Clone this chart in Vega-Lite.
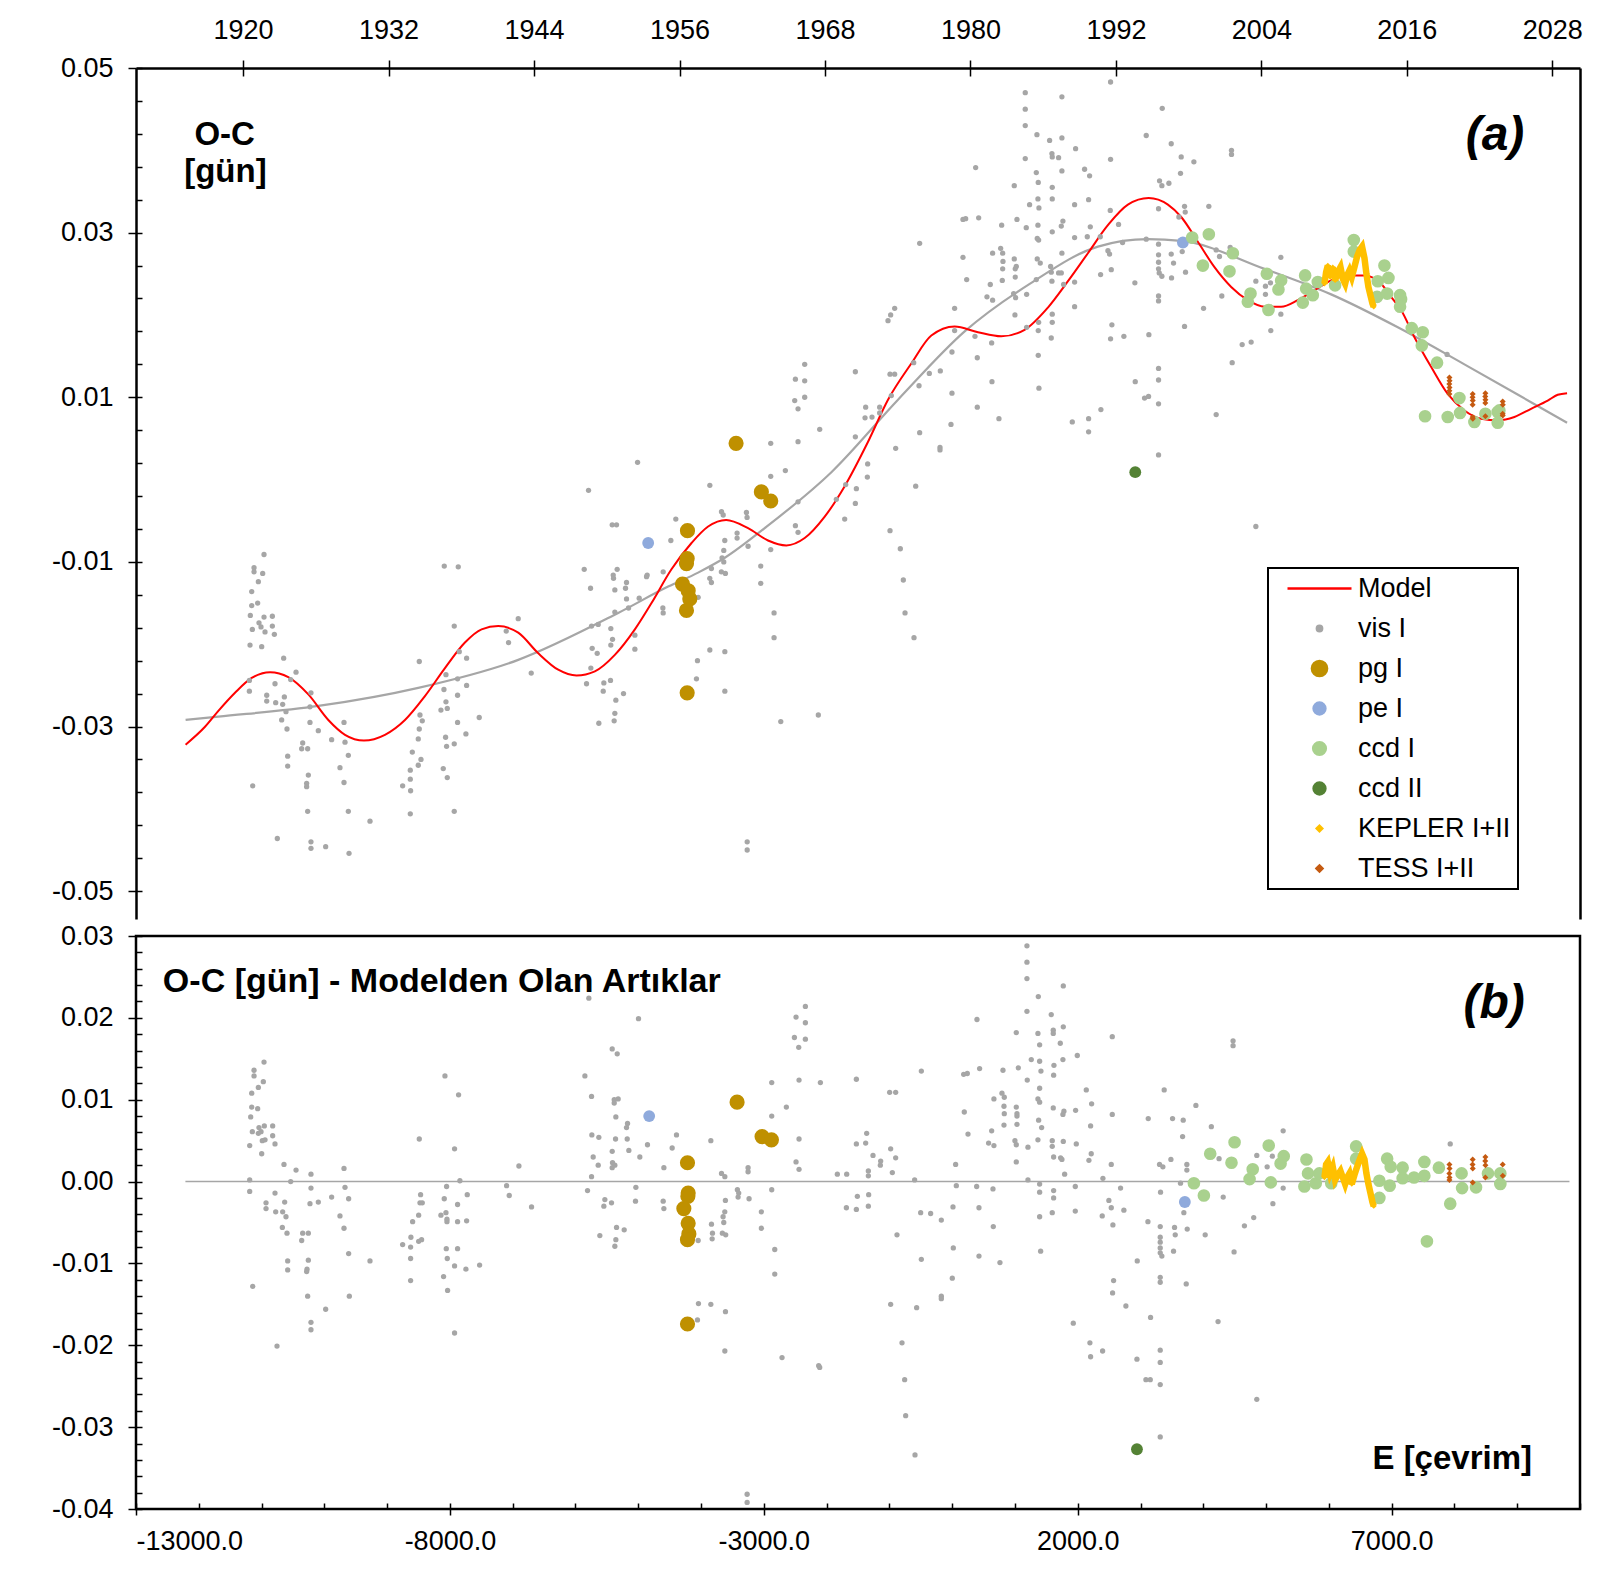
{
"$schema": "https://vega.github.io/schema/vega-lite/v6.json",
"background": "white",
"padding": {"left": 50, "top": 16, "right": 10, "bottom": 5},
"spacing": 1,
"config": {
  "font": "Liberation Sans",
  "view": {"stroke": null},
  "axis": {"labelFont": "Liberation Sans", "labelFontSize": 27, "labelColor": "black", "tickColor": "black", "domainColor": "black", "grid": false, "title": null, "tickWidth": 1.5, "domainWidth": 2.5}
},
"datasets": {
"trend": [
{"e":-12210,"o":-0.0292},{"e":-11688,"o":-0.0288},{"e":-10096,"o":-0.0275},{"e":-8504,"o":-0.0253},{"e":-6912,"o":-0.0219},{"e":-5320,"o":-0.0162},{"e":-4524,"o":-0.0130},{"e":-4047,"o":-0.0113},{"e":-3621,"o":-0.0095},{"e":-2986,"o":-0.0059},{"e":-1924,"o":0.0009},{"e":-863,"o":0.0097},{"e":199,"o":0.0180},{"e":1260,"o":0.0239},{"e":2321,"o":0.0283},{"e":3117,"o":0.0292},{"e":3648,"o":0.0290},{"e":4975,"o":0.0256},{"e":6036,"o":0.0225},{"e":7098,"o":0.0185},{"e":8159,"o":0.0140},{"e":9220,"o":0.0094},{"e":9794,"o":0.0069}
],
"model": [
{"e":-12210,"o":-0.0322,"s":"Model"},{"e":-11897,"o":-0.0300,"s":"Model"},{"e":-11688,"o":-0.0281,"s":"Model"},{"e":-11423,"o":-0.0259,"s":"Model"},{"e":-11157,"o":-0.0241,"s":"Model"},{"e":-10865,"o":-0.0234,"s":"Model"},{"e":-10574,"o":-0.0240,"s":"Model"},{"e":-10255,"o":-0.0261,"s":"Model"},{"e":-9937,"o":-0.0292,"s":"Model"},{"e":-9671,"o":-0.0310,"s":"Model"},{"e":-9369,"o":-0.0317,"s":"Model"},{"e":-9035,"o":-0.0310,"s":"Model"},{"e":-8716,"o":-0.0292,"s":"Model"},{"e":-8398,"o":-0.0263,"s":"Model"},{"e":-8079,"o":-0.0229,"s":"Model"},{"e":-7761,"o":-0.0198,"s":"Model"},{"e":-7496,"o":-0.0182,"s":"Model"},{"e":-7230,"o":-0.0178,"s":"Model"},{"e":-6912,"o":-0.0186,"s":"Model"},{"e":-6593,"o":-0.0211,"s":"Model"},{"e":-6275,"o":-0.0231,"s":"Model"},{"e":-5983,"o":-0.0238,"s":"Model"},{"e":-5691,"o":-0.0233,"s":"Model"},{"e":-5373,"o":-0.0213,"s":"Model"},{"e":-5054,"o":-0.0182,"s":"Model"},{"e":-4789,"o":-0.0150,"s":"Model"},{"e":-4471,"o":-0.0109,"s":"Model"},{"e":-4152,"o":-0.0077,"s":"Model"},{"e":-3887,"o":-0.0057,"s":"Model"},{"e":-3600,"o":-0.0049,"s":"Model"},{"e":-3251,"o":-0.0059,"s":"Model"},{"e":-2933,"o":-0.0074,"s":"Model"},{"e":-2641,"o":-0.0080,"s":"Model"},{"e":-2349,"o":-0.0071,"s":"Model"},{"e":-2030,"o":-0.0045,"s":"Model"},{"e":-1712,"o":-0.0008,"s":"Model"},{"e":-1340,"o":0.0046,"s":"Model"},{"e":-1022,"o":0.0097,"s":"Model"},{"e":-651,"o":0.0141,"s":"Model"},{"e":-332,"o":0.0175,"s":"Model"},{"e":39,"o":0.0186,"s":"Model"},{"e":411,"o":0.0179,"s":"Model"},{"e":782,"o":0.0174,"s":"Model"},{"e":1154,"o":0.0182,"s":"Model"},{"e":1525,"o":0.0209,"s":"Model"},{"e":1844,"o":0.0241,"s":"Model"},{"e":2162,"o":0.0275,"s":"Model"},{"e":2480,"o":0.0309,"s":"Model"},{"e":2799,"o":0.0334,"s":"Model"},{"e":3130,"o":0.0342,"s":"Model"},{"e":3436,"o":0.0334,"s":"Model"},{"e":3648,"o":0.0319,"s":"Model"},{"e":3913,"o":0.0289,"s":"Model"},{"e":4178,"o":0.0258,"s":"Model"},{"e":4444,"o":0.0234,"s":"Model"},{"e":4709,"o":0.0218,"s":"Model"},{"e":4975,"o":0.0210,"s":"Model"},{"e":5240,"o":0.0210,"s":"Model"},{"e":5505,"o":0.0218,"s":"Model"},{"e":5771,"o":0.0230,"s":"Model"},{"e":6036,"o":0.0242,"s":"Model"},{"e":6301,"o":0.0248,"s":"Model"},{"e":6567,"o":0.0248,"s":"Model"},{"e":6832,"o":0.0238,"s":"Model"},{"e":6991,"o":0.0222,"s":"Model"},{"e":7150,"o":0.0206,"s":"Model"},{"e":7363,"o":0.0173,"s":"Model"},{"e":7628,"o":0.0137,"s":"Model"},{"e":7893,"o":0.0104,"s":"Model"},{"e":8159,"o":0.0084,"s":"Model"},{"e":8424,"o":0.0074,"s":"Model"},{"e":8689,"o":0.0072,"s":"Model"},{"e":8955,"o":0.0076,"s":"Model"},{"e":9220,"o":0.0086,"s":"Model"},{"e":9486,"o":0.0096,"s":"Model"},{"e":9645,"o":0.0103,"s":"Model"},{"e":9794,"o":0.0105,"s":"Model"}
],
"zero": [{"e":-12213,"o":0},{"e":9832,"o":0}],
"top": [
{"e":-10961,"o":-0.0091,"s":"vis I"},{"e":-11120,"o":-0.0107,"s":"vis I"},{"e":-11120,"o":-0.0112,"s":"vis I"},{"e":-10982,"o":-0.0114,"s":"vis I"},{"e":-11051,"o":-0.0124,"s":"vis I"},{"e":-11157,"o":-0.0136,"s":"vis I"},{"e":-11157,"o":-0.0153,"s":"vis I"},{"e":-11062,"o":-0.0150,"s":"vis I"},{"e":-11179,"o":-0.0165,"s":"vis I"},{"e":-10961,"o":-0.0167,"s":"vis I"},{"e":-10828,"o":-0.0166,"s":"vis I"},{"e":-11041,"o":-0.0174,"s":"vis I"},{"e":-11009,"o":-0.0179,"s":"vis I"},{"e":-11147,"o":-0.0182,"s":"vis I"},{"e":-10945,"o":-0.0185,"s":"vis I"},{"e":-10828,"o":-0.0178,"s":"vis I"},{"e":-10796,"o":-0.0188,"s":"vis I"},{"e":-11184,"o":-0.0201,"s":"vis I"},{"e":-10998,"o":-0.0203,"s":"vis I"},{"e":-11194,"o":-0.0244,"s":"vis I"},{"e":-11194,"o":-0.0257,"s":"vis I"},{"e":-10786,"o":-0.0248,"s":"vis I"},{"e":-10918,"o":-0.0262,"s":"vis I"},{"e":-10918,"o":-0.0269,"s":"vis I"},{"e":-10775,"o":-0.0271,"s":"vis I"},{"e":-10664,"o":-0.0273,"s":"vis I"},{"e":-10637,"o":-0.0264,"s":"vis I"},{"e":-10648,"o":-0.0217,"s":"vis I"},{"e":-10451,"o":-0.0234,"s":"vis I"},{"e":-10536,"o":-0.0243,"s":"vis I"},{"e":-10611,"o":-0.0282,"s":"vis I"},{"e":-10680,"o":-0.0292,"s":"vis I"},{"e":-10595,"o":-0.0303,"s":"vis I"},{"e":-10213,"o":-0.0259,"s":"vis I"},{"e":-10229,"o":-0.0276,"s":"vis I"},{"e":-10229,"o":-0.0295,"s":"vis I"},{"e":-10096,"o":-0.0305,"s":"vis I"},{"e":-10345,"o":-0.0320,"s":"vis I"},{"e":-10361,"o":-0.0327,"s":"vis I"},{"e":-10266,"o":-0.0327,"s":"vis I"},{"e":-10584,"o":-0.0336,"s":"vis I"},{"e":-10584,"o":-0.0348,"s":"vis I"},{"e":-11141,"o":-0.0372,"s":"vis I"},{"e":-10255,"o":-0.0359,"s":"vis I"},{"e":-10282,"o":-0.0369,"s":"vis I"},{"e":-10282,"o":-0.0373,"s":"vis I"},{"e":-10266,"o":-0.0403,"s":"vis I"},{"e":-10749,"o":-0.0436,"s":"vis I"},{"e":-10213,"o":-0.0440,"s":"vis I"},{"e":-10213,"o":-0.0448,"s":"vis I"},{"e":-9979,"o":-0.0446,"s":"vis I"},{"e":-9884,"o":-0.0316,"s":"vis I"},{"e":-9687,"o":-0.0295,"s":"vis I"},{"e":-9671,"o":-0.0319,"s":"vis I"},{"e":-9618,"o":-0.0335,"s":"vis I"},{"e":-9751,"o":-0.0350,"s":"vis I"},{"e":-9687,"o":-0.0368,"s":"vis I"},{"e":-9618,"o":-0.0403,"s":"vis I"},{"e":-9273,"o":-0.0415,"s":"vis I"},{"e":-9607,"o":-0.0454,"s":"vis I"},
{"e":-8488,"o":-0.0221,"s":"vis I"},{"e":-8090,"o":-0.0105,"s":"vis I"},{"e":-7867,"o":-0.0106,"s":"vis I"},{"e":-7931,"o":-0.0178,"s":"vis I"},{"e":-7851,"o":-0.0209,"s":"vis I"},{"e":-7734,"o":-0.0217,"s":"vis I"},{"e":-8063,"o":-0.0237,"s":"vis I"},{"e":-7878,"o":-0.0242,"s":"vis I"},{"e":-8095,"o":-0.0255,"s":"vis I"},{"e":-7734,"o":-0.0250,"s":"vis I"},{"e":-7878,"o":-0.0262,"s":"vis I"},{"e":-8063,"o":-0.0270,"s":"vis I"},{"e":-8042,"o":-0.0278,"s":"vis I"},{"e":-8143,"o":-0.0280,"s":"vis I"},{"e":-8477,"o":-0.0286,"s":"vis I"},{"e":-8440,"o":-0.0293,"s":"vis I"},{"e":-8488,"o":-0.0303,"s":"vis I"},{"e":-8504,"o":-0.0315,"s":"vis I"},{"e":-7878,"o":-0.0295,"s":"vis I"},{"e":-7533,"o":-0.0289,"s":"vis I"},{"e":-8069,"o":-0.0313,"s":"vis I"},{"e":-8053,"o":-0.0324,"s":"vis I"},{"e":-7931,"o":-0.0321,"s":"vis I"},{"e":-7745,"o":-0.0309,"s":"vis I"},{"e":-8599,"o":-0.0331,"s":"vis I"},{"e":-8461,"o":-0.0340,"s":"vis I"},{"e":-8504,"o":-0.0347,"s":"vis I"},{"e":-8631,"o":-0.0353,"s":"vis I"},{"e":-8631,"o":-0.0364,"s":"vis I"},{"e":-8753,"o":-0.0372,"s":"vis I"},{"e":-8626,"o":-0.0378,"s":"vis I"},{"e":-8106,"o":-0.0351,"s":"vis I"},{"e":-8042,"o":-0.0362,"s":"vis I"},{"e":-8631,"o":-0.0406,"s":"vis I"},{"e":-7931,"o":-0.0403,"s":"vis I"},{"e":-6912,"o":-0.0169,"s":"vis I"},{"e":-7103,"o":-0.0184,"s":"vis I"},{"e":-7066,"o":-0.0198,"s":"vis I"},{"e":-6705,"o":-0.0235,"s":"vis I"},
{"e":-5792,"o":-0.0013,"s":"vis I"},{"e":-5415,"o":-0.0055,"s":"vis I"},{"e":-5346,"o":-0.0055,"s":"vis I"},{"e":-5861,"o":-0.0109,"s":"vis I"},{"e":-5760,"o":-0.0132,"s":"vis I"},{"e":-5336,"o":-0.0109,"s":"vis I"},{"e":-5399,"o":-0.0116,"s":"vis I"},{"e":-5394,"o":-0.0120,"s":"vis I"},{"e":-5187,"o":-0.0125,"s":"vis I"},{"e":-5203,"o":-0.0132,"s":"vis I"},{"e":-5373,"o":-0.0134,"s":"vis I"},{"e":-5187,"o":-0.0145,"s":"vis I"},{"e":-5155,"o":-0.0156,"s":"vis I"},{"e":-4985,"o":-0.0144,"s":"vis I"},{"e":-5373,"o":-0.0161,"s":"vis I"},{"e":-5744,"o":-0.0178,"s":"vis I"},{"e":-5638,"o":-0.0176,"s":"vis I"},{"e":-5437,"o":-0.0181,"s":"vis I"},{"e":-5410,"o":-0.0194,"s":"vis I"},{"e":-5437,"o":-0.0201,"s":"vis I"},{"e":-5054,"o":-0.0189,"s":"vis I"},{"e":-5054,"o":-0.0206,"s":"vis I"},{"e":-5734,"o":-0.0205,"s":"vis I"},{"e":-5654,"o":-0.0211,"s":"vis I"},{"e":-5755,"o":-0.0229,"s":"vis I"},{"e":-5824,"o":-0.0248,"s":"vis I"},{"e":-5442,"o":-0.0244,"s":"vis I"},{"e":-5548,"o":-0.0247,"s":"vis I"},{"e":-5558,"o":-0.0257,"s":"vis I"},{"e":-5357,"o":-0.0268,"s":"vis I"},{"e":-5235,"o":-0.0260,"s":"vis I"},{"e":-5373,"o":-0.0284,"s":"vis I"},{"e":-5384,"o":-0.0293,"s":"vis I"},{"e":-5628,"o":-0.0296,"s":"vis I"},{"e":-4858,"o":-0.0116,"s":"vis I"},{"e":-4868,"o":-0.0118,"s":"vis I"},{"e":-4603,"o":-0.0112,"s":"vis I"},{"e":-4481,"o":-0.0074,"s":"vis I"},{"e":-4402,"o":-0.0048,"s":"vis I"},{"e":-4608,"o":-0.0156,"s":"vis I"},{"e":-4603,"o":-0.0162,"s":"vis I"},{"e":-3860,"o":-0.0007,"s":"vis I"},{"e":-4057,"o":-0.0220,"s":"vis I"},{"e":-4073,"o":-0.0242,"s":"vis I"},{"e":-3860,"o":-0.0207,"s":"vis I"},{"e":-3621,"o":-0.0209,"s":"vis I"},{"e":-3621,"o":-0.0257,"s":"vis I"},{"e":-4046,"o":-0.0143,"s":"vis I"},{"e":-3674,"o":-0.0039,"s":"vis I"},{"e":-3647,"o":-0.0043,"s":"vis I"},{"e":-5011,"o":0.0021,"s":"vis I"},{"e":-3622,"o":-0.0074,"s":"vis I"},{"e":-3638,"o":-0.0086,"s":"vis I"},{"e":-3665,"o":-0.0095,"s":"vis I"},{"e":-3638,"o":-0.0100,"s":"vis I"},{"e":-3835,"o":-0.0108,"s":"vis I"},{"e":-3676,"o":-0.0112,"s":"vis I"},{"e":-3612,"o":-0.0114,"s":"vis I"},{"e":-3861,"o":-0.0120,"s":"vis I"},{"e":-3835,"o":-0.0125,"s":"vis I"},
{"e":-3277,"o":-0.0040,"s":"vis I"},{"e":-3267,"o":-0.0046,"s":"vis I"},{"e":-3426,"o":-0.0065,"s":"vis I"},{"e":-3426,"o":-0.0071,"s":"vis I"},{"e":-3251,"o":-0.0081,"s":"vis I"},{"e":-3049,"o":-0.0105,"s":"vis I"},{"e":-3049,"o":-0.0126,"s":"vis I"},{"e":-2890,"o":0.0044,"s":"vis I"},{"e":-2890,"o":0.0004,"s":"vis I"},{"e":-2657,"o":0.0011,"s":"vis I"},{"e":-2890,"o":-0.0085,"s":"vis I"},{"e":-2837,"o":-0.0162,"s":"vis I"},{"e":-2837,"o":-0.0192,"s":"vis I"},{"e":-2455,"o":0.0046,"s":"vis I"},{"e":-2455,"o":-0.0027,"s":"vis I"},{"e":-2497,"o":-0.0056,"s":"vis I"},{"e":-2455,"o":-0.0064,"s":"vis I"},{"e":-2508,"o":0.0096,"s":"vis I"},{"e":-2455,"o":0.0086,"s":"vis I"},{"e":-2497,"o":0.0122,"s":"vis I"},{"e":-2349,"o":0.0140,"s":"vis I"},{"e":-2349,"o":0.0120,"s":"vis I"},{"e":-2349,"o":0.0100,"s":"vis I"},{"e":-2110,"o":0.0061,"s":"vis I"},{"e":-1845,"o":-0.0024,"s":"vis I"},{"e":-1712,"o":-0.0048,"s":"vis I"},{"e":-1696,"o":-0.0006,"s":"vis I"},{"e":-1526,"o":-0.0011,"s":"vis I"},{"e":-1542,"o":-0.0029,"s":"vis I"},{"e":-1542,"o":0.0052,"s":"vis I"},{"e":-1542,"o":0.0131,"s":"vis I"},{"e":-1378,"o":0.0088,"s":"vis I"},{"e":-1388,"o":0.0075,"s":"vis I"},{"e":-1277,"o":0.0076,"s":"vis I"},{"e":-1155,"o":0.0088,"s":"vis I"},{"e":-1155,"o":0.0081,"s":"vis I"},{"e":-1346,"o":0.0019,"s":"vis I"},{"e":-1351,"o":0.0003,"s":"vis I"},{"e":-990,"o":0.0128,"s":"vis I"},{"e":-916,"o":0.0128,"s":"vis I"},{"e":-969,"o":0.0102,"s":"vis I"},{"e":-1022,"o":0.0193,"s":"vis I"},{"e":-980,"o":0.0200,"s":"vis I"},{"e":-916,"o":0.0208,"s":"vis I"},{"e":-900,"o":0.0038,"s":"vis I"},{"e":-990,"o":-0.0062,"s":"vis I"},{"e":-826,"o":-0.0084,"s":"vis I"},{"e":-778,"o":-0.0122,"s":"vis I"},{"e":-751,"o":-0.0162,"s":"vis I"},{"e":-608,"o":-0.0192,"s":"vis I"},{"e":-581,"o":-0.0008,"s":"vis I"},{"e":-518,"o":0.0057,"s":"vis I"},{"e":-528,"o":0.0114,"s":"vis I"},{"e":-613,"o":0.0142,"s":"vis I"},{"e":-518,"o":0.0287,"s":"vis I"},{"e":-364,"o":0.0129,"s":"vis I"},{"e":-189,"o":0.0132,"s":"vis I"},{"e":-194,"o":0.0039,"s":"vis I"},{"e":-194,"o":0.0036,"s":"vis I"},{"e":-19,"o":0.0067,"s":"vis I"},{"e":-3,"o":0.0105,"s":"vis I"},{"e":-3,"o":0.0155,"s":"vis I"},{"e":39,"o":0.0208,"s":"vis I"},{"e":39,"o":0.0181,"s":"vis I"},{"e":172,"o":0.0270,"s":"vis I"},{"e":172,"o":0.0316,"s":"vis I"},{"e":215,"o":0.0317,"s":"vis I"},{"e":231,"o":0.0243,"s":"vis I"},{"e":374,"o":0.0379,"s":"vis I"},{"e":422,"o":0.0318,"s":"vis I"},{"e":400,"o":0.0148,"s":"vis I"},{"e":400,"o":0.0088,"s":"vis I"},{"e":363,"o":0.0174,"s":"vis I"},{"e":629,"o":0.0166,"s":"vis I"},{"e":634,"o":0.0119,"s":"vis I"},{"e":745,"o":0.0074,"s":"vis I"},{"e":554,"o":0.0222,"s":"vis I"},{"e":644,"o":0.0218,"s":"vis I"},{"e":607,"o":0.0237,"s":"vis I"},{"e":644,"o":0.0275,"s":"vis I"},{"e":772,"o":0.0281,"s":"vis I"},{"e":804,"o":0.0275,"s":"vis I"},{"e":809,"o":0.0265,"s":"vis I"},{"e":804,"o":0.0256,"s":"vis I"},{"e":798,"o":0.0242,"s":"vis I"},{"e":788,"o":0.0309,"s":"vis I"},{"e":989,"o":0.0357,"s":"vis I"},{"e":1032,"o":0.0316,"s":"vis I"},{"e":989,"o":0.0268,"s":"vis I"},{"e":1021,"o":0.0259,"s":"vis I"},{"e":1005,"o":0.0256,"s":"vis I"},{"e":1005,"o":0.0246,"s":"vis I"},{"e":979,"o":0.0226,"s":"vis I"},{"e":1011,"o":0.0221,"s":"vis I"},{"e":1000,"o":0.0200,"s":"vis I"},{"e":1180,"o":0.0306,"s":"vis I"},{"e":1233,"o":0.0334,"s":"vis I"},{"e":1186,"o":0.0225,"s":"vis I"},{"e":1186,"o":0.0185,"s":"vis I"},{"e":1164,"o":0.0470,"s":"vis I"},{"e":1164,"o":0.0450,"s":"vis I"},{"e":1164,"o":0.0430,"s":"vis I"},{"e":1164,"o":0.0390,"s":"vis I"},{"e":1350,"o":0.0419,"s":"vis I"},{"e":1340,"o":0.0373,"s":"vis I"},{"e":1371,"o":0.0361,"s":"vis I"},{"e":1366,"o":0.0341,"s":"vis I"},{"e":1382,"o":0.0330,"s":"vis I"},{"e":1366,"o":0.0309,"s":"vis I"},{"e":1355,"o":0.0293,"s":"vis I"},{"e":1377,"o":0.0291,"s":"vis I"},{"e":1355,"o":0.0268,"s":"vis I"},{"e":1403,"o":0.0263,"s":"vis I"},{"e":1340,"o":0.0243,"s":"vis I"},{"e":1377,"o":0.0191,"s":"vis I"},{"e":1371,"o":0.0181,"s":"vis I"},{"e":1371,"o":0.0151,"s":"vis I"},{"e":1382,"o":0.0111,"s":"vis I"},{"e":1552,"o":0.0412,"s":"vis I"},{"e":1589,"o":0.0396,"s":"vis I"},{"e":1594,"o":0.0392,"s":"vis I"},{"e":1695,"o":0.0391,"s":"vis I"},{"e":1748,"o":0.0415,"s":"vis I"},{"e":1748,"o":0.0465,"s":"vis I"},{"e":1748,"o":0.0375,"s":"vis I"},{"e":1594,"o":0.0355,"s":"vis I"},{"e":1594,"o":0.0341,"s":"vis I"},{"e":1966,"o":0.0402,"s":"vis I"},{"e":2109,"o":0.0377,"s":"vis I"},{"e":2189,"o":0.0369,"s":"vis I"},{"e":2173,"o":0.0340,"s":"vis I"},{"e":1950,"o":0.0334,"s":"vis I"},{"e":1764,"o":0.0314,"s":"vis I"},{"e":1738,"o":0.0308,"s":"vis I"},{"e":1594,"o":0.0301,"s":"vis I"},{"e":1950,"o":0.0294,"s":"vis I"},{"e":2152,"o":0.0295,"s":"vis I"},{"e":2200,"o":0.0307,"s":"vis I"},{"e":1748,"o":0.0275,"s":"vis I"},{"e":1568,"o":0.0259,"s":"vis I"},{"e":1578,"o":0.0252,"s":"vis I"},{"e":1695,"o":0.0251,"s":"vis I"},{"e":1738,"o":0.0251,"s":"vis I"},{"e":1589,"o":0.0241,"s":"vis I"},{"e":1775,"o":0.0237,"s":"vis I"},{"e":1950,"o":0.0240,"s":"vis I"},{"e":1950,"o":0.0210,"s":"vis I"},{"e":1594,"o":0.0201,"s":"vis I"},{"e":1594,"o":0.0191,"s":"vis I"},{"e":1578,"o":0.0172,"s":"vis I"},{"e":1913,"o":0.0070,"s":"vis I"},{"e":2173,"o":0.0074,"s":"vis I"},{"e":2173,"o":0.0058,"s":"vis I"},{"e":2369,"o":0.0085,"s":"vis I"},{"e":2364,"o":0.0249,"s":"vis I"},{"e":2359,"o":0.0295,"s":"vis I"},{"e":2518,"o":0.0327,"s":"vis I"},{"e":2523,"o":0.0389,"s":"vis I"},{"e":2523,"o":0.0483,"s":"vis I"},{"e":2481,"o":0.0278,"s":"vis I"},{"e":2507,"o":0.0274,"s":"vis I"},{"e":2534,"o":0.0255,"s":"vis I"},{"e":2544,"o":0.0188,"s":"vis I"},{"e":2523,"o":0.0171,"s":"vis I"},{"e":2650,"o":0.0310,"s":"vis I"},{"e":2714,"o":0.0288,"s":"vis I"},{"e":2735,"o":0.0174,"s":"vis I"},{"e":2910,"o":0.0239,"s":"vis I"},{"e":2916,"o":0.0119,"s":"vis I"},{"e":3064,"o":0.0099,"s":"vis I"},{"e":3128,"o":0.0101,"s":"vis I"},{"e":3133,"o":0.0176,"s":"vis I"},{"e":3091,"o":0.0418,"s":"vis I"},{"e":3091,"o":0.0292,"s":"vis I"},{"e":3287,"o":0.0329,"s":"vis I"},{"e":3287,"o":0.0286,"s":"vis I"},{"e":3287,"o":0.0273,"s":"vis I"},{"e":3287,"o":0.0264,"s":"vis I"},{"e":3287,"o":0.0256,"s":"vis I"},{"e":3298,"o":0.0251,"s":"vis I"},{"e":3340,"o":0.0247,"s":"vis I"},{"e":3287,"o":0.0223,"s":"vis I"},{"e":3287,"o":0.0217,"s":"vis I"},{"e":3287,"o":0.0135,"s":"vis I"},{"e":3287,"o":0.0121,"s":"vis I"},{"e":3287,"o":0.0092,"s":"vis I"},{"e":3287,"o":0.0030,"s":"vis I"},{"e":3303,"o":0.0363,"s":"vis I"},{"e":3340,"o":0.0357,"s":"vis I"},{"e":3452,"o":0.0360,"s":"vis I"},{"e":3346,"o":0.0451,"s":"vis I"},{"e":3489,"o":0.0408,"s":"vis I"},{"e":3489,"o":0.0274,"s":"vis I"},{"e":3526,"o":0.0263,"s":"vis I"},{"e":3494,"o":0.0245,"s":"vis I"},{"e":3611,"o":0.0319,"s":"vis I"},{"e":3648,"o":0.0392,"s":"vis I"},{"e":3637,"o":0.0372,"s":"vis I"},{"e":3701,"o":0.0332,"s":"vis I"},{"e":3712,"o":0.0325,"s":"vis I"},{"e":3701,"o":0.0186,"s":"vis I"},{"e":3717,"o":0.0252,"s":"vis I"},{"e":3664,"o":0.0277,"s":"vis I"},{"e":3850,"o":0.0386,"s":"vis I"},{"e":4004,"o":0.0208,"s":"vis I"},{"e":-2132,"o":-0.0286,"s":"vis I"},{"e":-2730,"o":-0.0294,"s":"vis I"},{"e":-3265,"o":-0.0440,"s":"vis I"},{"e":-3265,"o":-0.0450,"s":"vis I"},
{"e":4205,"o":0.0279,"s":"vis I"},{"e":4258,"o":0.0271,"s":"vis I"},{"e":4428,"o":0.0282,"s":"vis I"},{"e":4295,"o":0.0223,"s":"vis I"},{"e":4460,"o":0.0142,"s":"vis I"},{"e":4619,"o":0.0164,"s":"vis I"},{"e":4762,"o":0.0167,"s":"vis I"},{"e":4837,"o":0.0241,"s":"vis I"},{"e":4990,"o":0.0235,"s":"vis I"},{"e":5070,"o":0.0239,"s":"vis I"},{"e":4990,"o":0.0225,"s":"vis I"},{"e":5075,"o":0.0181,"s":"vis I"},{"e":5235,"o":0.0270,"s":"vis I"},{"e":5235,"o":0.0201,"s":"vis I"},{"e":7883,"o":0.0152,"s":"vis I"},{"e":4205,"o":0.0079,"s":"vis I"},{"e":4088,"o":0.0332,"s":"vis I"},{"e":4449,"o":0.0400,"s":"vis I"},{"e":4449,"o":0.0395,"s":"vis I"},{"e":4837,"o":-0.0057,"s":"vis I"},
{"e":-4216,"o":-0.0062,"s":"pg I"},{"e":-4221,"o":-0.0096,"s":"pg I"},{"e":-4232,"o":-0.0102,"s":"pg I"},{"e":-4295,"o":-0.0127,"s":"pg I"},{"e":-4205,"o":-0.0135,"s":"pg I"},{"e":-4179,"o":-0.0145,"s":"pg I"},{"e":-4232,"o":-0.0159,"s":"pg I"},{"e":-4221,"o":-0.0259,"s":"pg I"},{"e":-3442,"o":0.0044,"s":"pg I"},{"e":-3039,"o":-0.0015,"s":"pg I"},{"e":-2890,"o":-0.0026,"s":"pg I"},
{"e":-4842,"o":-0.0077,"s":"pe I"},{"e":3675,"o":0.0288,"s":"pe I"},
{"e":3823,"o":0.0294,"s":"ccd I"},{"e":4088,"o":0.0298,"s":"ccd I"},{"e":3993,"o":0.0260,"s":"ccd I"},{"e":4470,"o":0.0275,"s":"ccd I"},{"e":4417,"o":0.0253,"s":"ccd I"},{"e":4752,"o":0.0226,"s":"ccd I"},{"e":4709,"o":0.0216,"s":"ccd I"},{"e":5012,"o":0.0250,"s":"ccd I"},{"e":5038,"o":0.0206,"s":"ccd I"},{"e":5240,"o":0.0242,"s":"ccd I"},{"e":5197,"o":0.0231,"s":"ccd I"},{"e":5585,"o":0.0215,"s":"ccd I"},{"e":5622,"o":0.0248,"s":"ccd I"},{"e":5638,"o":0.0232,"s":"ccd I"},{"e":5744,"o":0.0224,"s":"ccd I"},{"e":5824,"o":0.0240,"s":"ccd I"},{"e":6099,"o":0.0236,"s":"ccd I"},{"e":6397,"o":0.0291,"s":"ccd I"},{"e":6397,"o":0.0277,"s":"ccd I"},{"e":6885,"o":0.0260,"s":"ccd I"},{"e":6949,"o":0.0245,"s":"ccd I"},{"e":6779,"o":0.0241,"s":"ccd I"},{"e":6768,"o":0.0222,"s":"ccd I"},{"e":6928,"o":0.0226,"s":"ccd I"},{"e":7134,"o":0.0224,"s":"ccd I"},{"e":7150,"o":0.0219,"s":"ccd I"},{"e":7134,"o":0.0210,"s":"ccd I"},{"e":7320,"o":0.0184,"s":"ccd I"},{"e":7495,"o":0.0179,"s":"ccd I"},{"e":7480,"o":0.0163,"s":"ccd I"},{"e":7723,"o":0.0142,"s":"ccd I"},{"e":8079,"o":0.0099,"s":"ccd I"},{"e":7532,"o":0.0077,"s":"ccd I"},{"e":7893,"o":0.0076,"s":"ccd I"},{"e":8090,"o":0.0081,"s":"ccd I"},{"e":8318,"o":0.0070,"s":"ccd I"},{"e":8493,"o":0.0080,"s":"ccd I"},{"e":8689,"o":0.0082,"s":"ccd I"},{"e":8689,"o":0.0069,"s":"ccd I"},{"e":8716,"o":0.0084,"s":"ccd I"},
{"e":2916,"o":0.0009,"s":"ccd II"},
{"e":5930,"o":0.0238,"s":"KEPLER I+II"},{"e":5956,"o":0.0252,"s":"KEPLER I+II"},{"e":5983,"o":0.0260,"s":"KEPLER I+II"},{"e":6020,"o":0.0246,"s":"KEPLER I+II"},{"e":6062,"o":0.0258,"s":"KEPLER I+II"},{"e":6100,"o":0.0242,"s":"KEPLER I+II"},{"e":6142,"o":0.0252,"s":"KEPLER I+II"},{"e":6185,"o":0.0258,"s":"KEPLER I+II"},{"e":6222,"o":0.0244,"s":"KEPLER I+II"},{"e":6259,"o":0.0238,"s":"KEPLER I+II"},{"e":6291,"o":0.0248,"s":"KEPLER I+II"},{"e":6328,"o":0.0254,"s":"KEPLER I+II"},{"e":6365,"o":0.0246,"s":"KEPLER I+II"},{"e":6407,"o":0.0258,"s":"KEPLER I+II"},{"e":6450,"o":0.0271,"s":"KEPLER I+II"},{"e":6492,"o":0.0279,"s":"KEPLER I+II"},{"e":6529,"o":0.0283,"s":"KEPLER I+II"},{"e":6567,"o":0.0269,"s":"KEPLER I+II"},{"e":6598,"o":0.0250,"s":"KEPLER I+II"},{"e":6630,"o":0.0234,"s":"KEPLER I+II"},{"e":6662,"o":0.0224,"s":"KEPLER I+II"},{"e":6694,"o":0.0214,"s":"KEPLER I+II"},{"e":6715,"o":0.0210,"s":"KEPLER I+II"},
{"e":7920,"o":0.0124,"s":"TESS I+II"},{"e":7922,"o":0.0120,"s":"TESS I+II"},{"e":7918,"o":0.0116,"s":"TESS I+II"},{"e":7921,"o":0.0112,"s":"TESS I+II"},{"e":7919,"o":0.0108,"s":"TESS I+II"},{"e":7920,"o":0.0104,"s":"TESS I+II"},{"e":8291,"o":0.0104,"s":"TESS I+II"},{"e":8289,"o":0.0100,"s":"TESS I+II"},{"e":8292,"o":0.0096,"s":"TESS I+II"},{"e":8290,"o":0.0091,"s":"TESS I+II"},{"e":8291,"o":0.0076,"s":"TESS I+II"},{"e":8293,"o":0.0074,"s":"TESS I+II"},{"e":8493,"o":0.0105,"s":"TESS I+II"},{"e":8491,"o":0.0101,"s":"TESS I+II"},{"e":8494,"o":0.0097,"s":"TESS I+II"},{"e":8492,"o":0.0093,"s":"TESS I+II"},{"e":8493,"o":0.0077,"s":"TESS I+II"},{"e":8769,"o":0.0095,"s":"TESS I+II"},{"e":8771,"o":0.0091,"s":"TESS I+II"},{"e":8769,"o":0.0080,"s":"TESS I+II"},{"e":8770,"o":0.0078,"s":"TESS I+II"}
],
"bot": [
{"e":-10961,"o":0.0146,"s":"vis I"},{"e":-11120,"o":0.0136,"s":"vis I"},{"e":-11120,"o":0.0129,"s":"vis I"},{"e":-10972,"o":0.0122,"s":"vis I"},{"e":-11051,"o":0.0115,"s":"vis I"},{"e":-11157,"o":0.0108,"s":"vis I"},{"e":-11157,"o":0.0091,"s":"vis I"},{"e":-11062,"o":0.0089,"s":"vis I"},{"e":-11173,"o":0.0079,"s":"vis I"},{"e":-10956,"o":0.0068,"s":"vis I"},{"e":-10823,"o":0.0068,"s":"vis I"},{"e":-11041,"o":0.0066,"s":"vis I"},{"e":-11009,"o":0.0061,"s":"vis I"},{"e":-11051,"o":0.0059,"s":"vis I"},{"e":-11147,"o":0.0061,"s":"vis I"},{"e":-10823,"o":0.0056,"s":"vis I"},{"e":-10945,"o":0.0051,"s":"vis I"},{"e":-10988,"o":0.0050,"s":"vis I"},{"e":-10786,"o":0.0046,"s":"vis I"},{"e":-11189,"o":0.0044,"s":"vis I"},{"e":-10998,"o":0.0034,"s":"vis I"},{"e":-11189,"o":0.0002,"s":"vis I"},{"e":-11189,"o":-0.0012,"s":"vis I"},{"e":-10786,"o":-0.0014,"s":"vis I"},{"e":-10929,"o":-0.0026,"s":"vis I"},{"e":-10929,"o":-0.0033,"s":"vis I"},{"e":-10643,"o":0.0021,"s":"vis I"},{"e":-10451,"o":0.0014,"s":"vis I"},{"e":-10536,"o":0.0000,"s":"vis I"},{"e":-10632,"o":-0.0025,"s":"vis I"},{"e":-10775,"o":-0.0037,"s":"vis I"},{"e":-10664,"o":-0.0037,"s":"vis I"},{"e":-10611,"o":-0.0043,"s":"vis I"},{"e":-10669,"o":-0.0056,"s":"vis I"},{"e":-10595,"o":-0.0063,"s":"vis I"},{"e":-11141,"o":-0.0128,"s":"vis I"},{"e":-10754,"o":-0.0201,"s":"vis I"},{"e":-10213,"o":0.0009,"s":"vis I"},{"e":-10213,"o":-0.0008,"s":"vis I"},{"e":-10229,"o":-0.0027,"s":"vis I"},{"e":-10096,"o":-0.0025,"s":"vis I"},{"e":-10345,"o":-0.0063,"s":"vis I"},{"e":-10255,"o":-0.0063,"s":"vis I"},{"e":-10361,"o":-0.0072,"s":"vis I"},{"e":-10584,"o":-0.0097,"s":"vis I"},{"e":-10584,"o":-0.0108,"s":"vis I"},{"e":-10255,"o":-0.0096,"s":"vis I"},{"e":-10276,"o":-0.0107,"s":"vis I"},{"e":-10282,"o":-0.0110,"s":"vis I"},{"e":-10266,"o":-0.0140,"s":"vis I"},{"e":-10213,"o":-0.0172,"s":"vis I"},{"e":-10213,"o":-0.0181,"s":"vis I"},{"e":-9979,"o":-0.0156,"s":"vis I"},{"e":-9884,"o":-0.0019,"s":"vis I"},{"e":-9687,"o":0.0016,"s":"vis I"},{"e":-9671,"o":-0.0007,"s":"vis I"},{"e":-9613,"o":-0.0021,"s":"vis I"},{"e":-9751,"o":-0.0042,"s":"vis I"},{"e":-9687,"o":-0.0057,"s":"vis I"},{"e":-9613,"o":-0.0088,"s":"vis I"},{"e":-9602,"o":-0.0140,"s":"vis I"},{"e":-9273,"o":-0.0097,"s":"vis I"},
{"e":-8488,"o":0.0052,"s":"vis I"},{"e":-8079,"o":0.0129,"s":"vis I"},{"e":-7862,"o":0.0106,"s":"vis I"},{"e":-7926,"o":0.0040,"s":"vis I"},{"e":-7841,"o":0.0001,"s":"vis I"},{"e":-8053,"o":-0.0006,"s":"vis I"},{"e":-7724,"o":-0.0016,"s":"vis I"},{"e":-8090,"o":-0.0021,"s":"vis I"},{"e":-7878,"o":-0.0028,"s":"vis I"},{"e":-8467,"o":-0.0016,"s":"vis I"},{"e":-8477,"o":-0.0026,"s":"vis I"},{"e":-8440,"o":-0.0026,"s":"vis I"},{"e":-8498,"o":-0.0041,"s":"vis I"},{"e":-8143,"o":-0.0041,"s":"vis I"},{"e":-8063,"o":-0.0038,"s":"vis I"},{"e":-8047,"o":-0.0046,"s":"vis I"},{"e":-8047,"o":-0.0049,"s":"vis I"},{"e":-7878,"o":-0.0049,"s":"vis I"},{"e":-7734,"o":-0.0048,"s":"vis I"},{"e":-8594,"o":-0.0049,"s":"vis I"},{"e":-8621,"o":-0.0068,"s":"vis I"},{"e":-8626,"o":-0.0080,"s":"vis I"},{"e":-8753,"o":-0.0077,"s":"vis I"},{"e":-8498,"o":-0.0073,"s":"vis I"},{"e":-8451,"o":-0.0071,"s":"vis I"},{"e":-8626,"o":-0.0094,"s":"vis I"},{"e":-8626,"o":-0.0121,"s":"vis I"},{"e":-8058,"o":-0.0082,"s":"vis I"},{"e":-7878,"o":-0.0082,"s":"vis I"},{"e":-8042,"o":-0.0094,"s":"vis I"},{"e":-7926,"o":-0.0103,"s":"vis I"},{"e":-7745,"o":-0.0107,"s":"vis I"},{"e":-7527,"o":-0.0102,"s":"vis I"},{"e":-8101,"o":-0.0116,"s":"vis I"},{"e":-8037,"o":-0.0133,"s":"vis I"},{"e":-7926,"o":-0.0185,"s":"vis I"},{"e":-7097,"o":-0.0005,"s":"vis I"},{"e":-7055,"o":-0.0017,"s":"vis I"},{"e":-6901,"o":0.0019,"s":"vis I"},{"e":-6700,"o":-0.0031,"s":"vis I"},
{"e":-5787,"o":0.0224,"s":"vis I"},{"e":-4996,"o":0.0199,"s":"vis I"},{"e":-5415,"o":0.0162,"s":"vis I"},{"e":-5335,"o":0.0156,"s":"vis I"},{"e":-5850,"o":0.0129,"s":"vis I"},{"e":-5744,"o":0.0104,"s":"vis I"},{"e":-5383,"o":0.0100,"s":"vis I"},{"e":-5320,"o":0.0101,"s":"vis I"},{"e":-5383,"o":0.0096,"s":"vis I"},{"e":-5357,"o":0.0079,"s":"vis I"},{"e":-5171,"o":0.0071,"s":"vis I"},{"e":-5187,"o":0.0066,"s":"vis I"},{"e":-5739,"o":0.0057,"s":"vis I"},{"e":-5628,"o":0.0054,"s":"vis I"},{"e":-5362,"o":0.0052,"s":"vis I"},{"e":-5176,"o":0.0052,"s":"vis I"},{"e":-5415,"o":0.0037,"s":"vis I"},{"e":-5150,"o":0.0038,"s":"vis I"},{"e":-5718,"o":0.0030,"s":"vis I"},{"e":-5638,"o":0.0020,"s":"vis I"},{"e":-5410,"o":0.0023,"s":"vis I"},{"e":-5373,"o":0.0020,"s":"vis I"},{"e":-5415,"o":0.0017,"s":"vis I"},{"e":-5744,"o":0.0006,"s":"vis I"},{"e":-5808,"o":-0.0011,"s":"vis I"},{"e":-5532,"o":-0.0022,"s":"vis I"},{"e":-5426,"o":-0.0026,"s":"vis I"},{"e":-5548,"o":-0.0030,"s":"vis I"},{"e":-5038,"o":-0.0007,"s":"vis I"},{"e":-5044,"o":-0.0024,"s":"vis I"},{"e":-5346,"o":-0.0056,"s":"vis I"},{"e":-5224,"o":-0.0059,"s":"vis I"},{"e":-5612,"o":-0.0066,"s":"vis I"},{"e":-5357,"o":-0.0071,"s":"vis I"},{"e":-5373,"o":-0.0079,"s":"vis I"},{"e":-4853,"o":0.0045,"s":"vis I"},{"e":-4975,"o":0.0030,"s":"vis I"},{"e":-4592,"o":0.0017,"s":"vis I"},{"e":-4391,"o":0.0057,"s":"vis I"},{"e":-4460,"o":0.0041,"s":"vis I"},{"e":-4603,"o":-0.0024,"s":"vis I"},{"e":-4592,"o":-0.0033,"s":"vis I"},{"e":-3844,"o":0.0050,"s":"vis I"},{"e":-3674,"o":0.0010,"s":"vis I"},{"e":-3621,"o":0.0006,"s":"vis I"},{"e":-3834,"o":-0.0052,"s":"vis I"},{"e":-3818,"o":-0.0063,"s":"vis I"},{"e":-3823,"o":-0.0070,"s":"vis I"},{"e":-4046,"o":-0.0072,"s":"vis I"},{"e":-4041,"o":-0.0149,"s":"vis I"},{"e":-3844,"o":-0.0150,"s":"vis I"},{"e":-4057,"o":-0.0169,"s":"vis I"},{"e":-3611,"o":-0.0159,"s":"vis I"},{"e":-3621,"o":-0.0207,"s":"vis I"},{"e":-3612,"o":-0.0023,"s":"vis I"},{"e":-3622,"o":-0.0037,"s":"vis I"},{"e":-3649,"o":-0.0043,"s":"vis I"},{"e":-3638,"o":-0.0050,"s":"vis I"},{"e":-3660,"o":-0.0063,"s":"vis I"},{"e":-3607,"o":-0.0065,"s":"vis I"},
{"e":-3421,"o":-0.0010,"s":"vis I"},{"e":-3400,"o":-0.0014,"s":"vis I"},{"e":-3410,"o":-0.0019,"s":"vis I"},{"e":-3235,"o":-0.0021,"s":"vis I"},{"e":-3251,"o":0.0017,"s":"vis I"},{"e":-3251,"o":0.0012,"s":"vis I"},{"e":-3039,"o":-0.0037,"s":"vis I"},{"e":-3039,"o":-0.0057,"s":"vis I"},{"e":-2874,"o":0.0121,"s":"vis I"},{"e":-2874,"o":0.0080,"s":"vis I"},{"e":-2874,"o":-0.0010,"s":"vis I"},{"e":-2641,"o":0.0091,"s":"vis I"},{"e":-2826,"o":-0.0083,"s":"vis I"},{"e":-2826,"o":-0.0113,"s":"vis I"},{"e":-2710,"o":-0.0215,"s":"vis I"},{"e":-2126,"o":-0.0225,"s":"vis I"},{"e":-2110,"o":-0.0227,"s":"vis I"},{"e":-2487,"o":0.0201,"s":"vis I"},{"e":-2338,"o":0.0214,"s":"vis I"},{"e":-2338,"o":0.0194,"s":"vis I"},{"e":-2513,"o":0.0176,"s":"vis I"},{"e":-2338,"o":0.0174,"s":"vis I"},{"e":-2444,"o":0.0164,"s":"vis I"},{"e":-2439,"o":0.0124,"s":"vis I"},{"e":-2099,"o":0.0121,"s":"vis I"},{"e":-2439,"o":0.0052,"s":"vis I"},{"e":-2487,"o":0.0024,"s":"vis I"},{"e":-2439,"o":0.0015,"s":"vis I"},{"e":-1526,"o":0.0125,"s":"vis I"},{"e":-1362,"o":0.0059,"s":"vis I"},{"e":-1526,"o":0.0046,"s":"vis I"},{"e":-1378,"o":0.0047,"s":"vis I"},{"e":-1261,"o":0.0032,"s":"vis I"},{"e":-1139,"o":0.0025,"s":"vis I"},{"e":-1144,"o":0.0020,"s":"vis I"},{"e":-1335,"o":0.0013,"s":"vis I"},{"e":-1335,"o":0.0007,"s":"vis I"},{"e":-1829,"o":0.0009,"s":"vis I"},{"e":-1680,"o":0.0009,"s":"vis I"},{"e":-1510,"o":-0.0018,"s":"vis I"},{"e":-1330,"o":-0.0016,"s":"vis I"},{"e":-1685,"o":-0.0032,"s":"vis I"},{"e":-1526,"o":-0.0034,"s":"vis I"},{"e":-1335,"o":-0.0030,"s":"vis I"},{"e":-980,"o":0.0040,"s":"vis I"},{"e":-900,"o":0.0029,"s":"vis I"},{"e":-953,"o":0.0011,"s":"vis I"},{"e":-996,"o":0.0109,"s":"vis I"},{"e":-900,"o":0.0109,"s":"vis I"},{"e":-491,"o":0.0135,"s":"vis I"},{"e":-598,"o":0.0002,"s":"vis I"},{"e":-879,"o":-0.0065,"s":"vis I"},{"e":-502,"o":-0.0038,"s":"vis I"},{"e":-343,"o":-0.0039,"s":"vis I"},{"e":-173,"o":-0.0047,"s":"vis I"},{"e":-491,"o":-0.0095,"s":"vis I"},{"e":-980,"o":-0.0150,"s":"vis I"},{"e":-566,"o":-0.0154,"s":"vis I"},{"e":-799,"o":-0.0197,"s":"vis I"},{"e":-757,"o":-0.0242,"s":"vis I"},{"e":-741,"o":-0.0286,"s":"vis I"},{"e":-592,"o":-0.0334,"s":"vis I"},{"e":-173,"o":-0.0140,"s":"vis I"},{"e":-173,"o":-0.0143,"s":"vis I"},{"e":2,"o":-0.0118,"s":"vis I"},{"e":18,"o":-0.0081,"s":"vis I"},{"e":13,"o":-0.0031,"s":"vis I"},{"e":66,"o":-0.0005,"s":"vis I"},{"e":55,"o":0.0021,"s":"vis I"},{"e":183,"o":0.0131,"s":"vis I"},{"e":241,"o":0.0132,"s":"vis I"},{"e":193,"o":0.0085,"s":"vis I"},{"e":252,"o":0.0058,"s":"vis I"},{"e":395,"o":0.0198,"s":"vis I"},{"e":437,"o":0.0138,"s":"vis I"},{"e":390,"o":-0.0006,"s":"vis I"},{"e":427,"o":-0.0032,"s":"vis I"},{"e":427,"o":-0.0091,"s":"vis I"},{"e":650,"o":-0.0009,"s":"vis I"},{"e":655,"o":-0.0055,"s":"vis I"},{"e":761,"o":-0.0099,"s":"vis I"},{"e":580,"o":0.0047,"s":"vis I"},{"e":665,"o":0.0044,"s":"vis I"},{"e":629,"o":0.0062,"s":"vis I"},{"e":665,"o":0.0101,"s":"vis I"},{"e":793,"o":0.0108,"s":"vis I"},{"e":830,"o":0.0103,"s":"vis I"},{"e":825,"o":0.0092,"s":"vis I"},{"e":830,"o":0.0083,"s":"vis I"},{"e":825,"o":0.0069,"s":"vis I"},{"e":809,"o":0.0136,"s":"vis I"},{"e":1021,"o":0.0182,"s":"vis I"},{"e":1053,"o":0.0139,"s":"vis I"},{"e":1021,"o":0.0091,"s":"vis I"},{"e":1032,"o":0.0083,"s":"vis I"},{"e":1032,"o":0.0080,"s":"vis I"},{"e":1032,"o":0.0070,"s":"vis I"},{"e":1000,"o":0.0050,"s":"vis I"},{"e":1021,"o":0.0045,"s":"vis I"},{"e":1021,"o":0.0024,"s":"vis I"},{"e":1191,"o":0.0288,"s":"vis I"},{"e":1191,"o":0.0268,"s":"vis I"},{"e":1191,"o":0.0248,"s":"vis I"},{"e":1191,"o":0.0208,"s":"vis I"},{"e":1196,"o":0.0124,"s":"vis I"},{"e":1207,"o":0.0042,"s":"vis I"},{"e":1207,"o":0.0002,"s":"vis I"},{"e":1260,"o":0.0149,"s":"vis I"},{"e":1372,"o":0.0226,"s":"vis I"},{"e":1366,"o":0.0181,"s":"vis I"},{"e":1393,"o":0.0167,"s":"vis I"},{"e":1393,"o":0.0147,"s":"vis I"},{"e":1414,"o":0.0135,"s":"vis I"},{"e":1393,"o":0.0114,"s":"vis I"},{"e":1366,"o":0.0101,"s":"vis I"},{"e":1393,"o":0.0097,"s":"vis I"},{"e":1377,"o":0.0075,"s":"vis I"},{"e":1425,"o":0.0066,"s":"vis I"},{"e":1366,"o":0.0051,"s":"vis I"},{"e":1393,"o":-0.0003,"s":"vis I"},{"e":1393,"o":-0.0013,"s":"vis I"},{"e":1393,"o":-0.0043,"s":"vis I"},{"e":1409,"o":-0.0085,"s":"vis I"},{"e":1578,"o":0.0204,"s":"vis I"},{"e":1610,"o":0.0185,"s":"vis I"},{"e":1610,"o":0.0181,"s":"vis I"},{"e":1722,"o":0.0169,"s":"vis I"},{"e":1770,"o":0.0239,"s":"vis I"},{"e":1770,"o":0.0189,"s":"vis I"},{"e":1764,"o":0.0149,"s":"vis I"},{"e":1621,"o":0.0142,"s":"vis I"},{"e":1616,"o":0.0130,"s":"vis I"},{"e":1610,"o":0.0090,"s":"vis I"},{"e":1780,"o":0.0086,"s":"vis I"},{"e":1764,"o":0.0082,"s":"vis I"},{"e":1594,"o":0.0050,"s":"vis I"},{"e":1594,"o":0.0043,"s":"vis I"},{"e":1770,"o":0.0049,"s":"vis I"},{"e":1616,"o":0.0030,"s":"vis I"},{"e":1727,"o":0.0029,"s":"vis I"},{"e":1748,"o":0.0027,"s":"vis I"},{"e":1791,"o":0.0009,"s":"vis I"},{"e":1966,"o":0.0087,"s":"vis I"},{"e":1977,"o":0.0046,"s":"vis I"},{"e":1993,"o":0.0154,"s":"vis I"},{"e":1961,"o":-0.0006,"s":"vis I"},{"e":1616,"o":-0.0011,"s":"vis I"},{"e":1616,"o":-0.0020,"s":"vis I"},{"e":1594,"o":-0.0038,"s":"vis I"},{"e":1961,"o":-0.0036,"s":"vis I"},{"e":1929,"o":-0.0173,"s":"vis I"},{"e":2136,"o":0.0112,"s":"vis I"},{"e":2221,"o":0.0095,"s":"vis I"},{"e":2205,"o":0.0068,"s":"vis I"},{"e":2215,"o":0.0034,"s":"vis I"},{"e":2178,"o":0.0026,"s":"vis I"},{"e":2194,"o":-0.0197,"s":"vis I"},{"e":2205,"o":-0.0214,"s":"vis I"},{"e":2396,"o":-0.0207,"s":"vis I"},{"e":2550,"o":0.0177,"s":"vis I"},{"e":2550,"o":0.0082,"s":"vis I"},{"e":2534,"o":0.0021,"s":"vis I"},{"e":2401,"o":0.0004,"s":"vis I"},{"e":2682,"o":-0.0008,"s":"vis I"},{"e":2496,"o":-0.0023,"s":"vis I"},{"e":2534,"o":-0.0032,"s":"vis I"},{"e":2390,"o":-0.0042,"s":"vis I"},{"e":2560,"o":-0.0053,"s":"vis I"},{"e":2735,"o":-0.0035,"s":"vis I"},{"e":2571,"o":-0.0121,"s":"vis I"},{"e":2555,"o":-0.0136,"s":"vis I"},{"e":2767,"o":-0.0152,"s":"vis I"},{"e":2948,"o":-0.0097,"s":"vis I"},{"e":2943,"o":-0.0217,"s":"vis I"},{"e":3086,"o":-0.0242,"s":"vis I"},{"e":3155,"o":-0.0242,"s":"vis I"},{"e":3160,"o":-0.0166,"s":"vis I"},{"e":3118,"o":-0.0049,"s":"vis I"},{"e":3123,"o":0.0077,"s":"vis I"},{"e":3319,"o":-0.0013,"s":"vis I"},{"e":3314,"o":-0.0055,"s":"vis I"},{"e":3314,"o":-0.0068,"s":"vis I"},{"e":3314,"o":-0.0074,"s":"vis I"},{"e":3314,"o":-0.0081,"s":"vis I"},{"e":3314,"o":-0.0087,"s":"vis I"},{"e":3340,"o":-0.0091,"s":"vis I"},{"e":3314,"o":-0.0117,"s":"vis I"},{"e":3314,"o":-0.0123,"s":"vis I"},{"e":3314,"o":-0.0206,"s":"vis I"},{"e":3314,"o":-0.0221,"s":"vis I"},{"e":3314,"o":-0.0248,"s":"vis I"},{"e":3314,"o":-0.0312,"s":"vis I"},{"e":3303,"o":0.0021,"s":"vis I"},{"e":3356,"o":0.0018,"s":"vis I"},{"e":3484,"o":0.0027,"s":"vis I"},{"e":3510,"o":0.0077,"s":"vis I"},{"e":3680,"o":0.0075,"s":"vis I"},{"e":3377,"o":0.0112,"s":"vis I"},{"e":3670,"o":0.0055,"s":"vis I"},{"e":3738,"o":0.0021,"s":"vis I"},{"e":3738,"o":0.0014,"s":"vis I"},{"e":3637,"o":-0.0002,"s":"vis I"},{"e":3690,"o":-0.0038,"s":"vis I"},{"e":3542,"o":-0.0056,"s":"vis I"},{"e":3553,"o":-0.0065,"s":"vis I"},{"e":3744,"o":-0.0058,"s":"vis I"},{"e":3526,"o":-0.0085,"s":"vis I"},{"e":3728,"o":-0.0125,"s":"vis I"},{"e":3882,"o":0.0093,"s":"vis I"},{"e":4030,"o":-0.0065,"s":"vis I"},{"e":-3266,"o":-0.0382,"s":"vis I"},{"e":-3266,"o":-0.0392,"s":"vis I"},
{"e":4128,"o":0.0067,"s":"vis I"},{"e":4251,"o":0.0028,"s":"vis I"},{"e":4317,"o":-0.0019,"s":"vis I"},{"e":4235,"o":-0.0171,"s":"vis I"},{"e":4474,"o":0.0172,"s":"vis I"},{"e":4474,"o":0.0166,"s":"vis I"},{"e":4490,"o":-0.0086,"s":"vis I"},{"e":4655,"o":-0.0054,"s":"vis I"},{"e":4803,"o":-0.0044,"s":"vis I"},{"e":4852,"o":-0.0266,"s":"vis I"},{"e":4852,"o":0.0032,"s":"vis I"},{"e":5017,"o":0.0018,"s":"vis I"},{"e":5099,"o":0.0031,"s":"vis I"},{"e":5108,"o":-0.0027,"s":"vis I"},{"e":5272,"o":0.0062,"s":"vis I"},{"e":5272,"o":-0.0008,"s":"vis I"},{"e":7933,"o":0.0046,"s":"vis I"},
{"e":-4216,"o":0.0023,"s":"pg I"},{"e":-4205,"o":-0.0014,"s":"pg I"},{"e":-4210,"o":-0.0018,"s":"pg I"},{"e":-4274,"o":-0.0033,"s":"pg I"},{"e":-4205,"o":-0.0051,"s":"pg I"},{"e":-4194,"o":-0.0064,"s":"pg I"},{"e":-4216,"o":-0.0071,"s":"pg I"},{"e":-4216,"o":-0.0174,"s":"pg I"},{"e":-3426,"o":0.0097,"s":"pg I"},{"e":-3028,"o":0.0055,"s":"pg I"},{"e":-2879,"o":0.0051,"s":"pg I"},
{"e":-4826,"o":0.0080,"s":"pe I"},{"e":3706,"o":-0.0025,"s":"pe I"},
{"e":3850,"o":-0.0002,"s":"ccd I"},{"e":4009,"o":-0.0017,"s":"ccd I"},{"e":4110,"o":0.0034,"s":"ccd I"},{"e":4498,"o":0.0048,"s":"ccd I"},{"e":4449,"o":0.0023,"s":"ccd I"},{"e":4787,"o":0.0015,"s":"ccd I"},{"e":4737,"o":0.0003,"s":"ccd I"},{"e":5042,"o":0.0044,"s":"ccd I"},{"e":5075,"o":-0.0001,"s":"ccd I"},{"e":5231,"o":0.0022,"s":"ccd I"},{"e":5281,"o":0.0031,"s":"ccd I"},{"e":5643,"o":0.0027,"s":"ccd I"},{"e":5668,"o":0.0010,"s":"ccd I"},{"e":5610,"o":-0.0006,"s":"ccd I"},{"e":5791,"o":-0.0002,"s":"ccd I"},{"e":5849,"o":0.0010,"s":"ccd I"},{"e":6038,"o":-0.0002,"s":"ccd I"},{"e":6434,"o":0.0043,"s":"ccd I"},{"e":6434,"o":0.0028,"s":"ccd I"},{"e":6804,"o":0.0001,"s":"ccd I"},{"e":6804,"o":-0.0020,"s":"ccd I"},{"e":6928,"o":0.0028,"s":"ccd I"},{"e":6985,"o":0.0018,"s":"ccd I"},{"e":6969,"o":-0.0005,"s":"ccd I"},{"e":7175,"o":0.0017,"s":"ccd I"},{"e":7175,"o":0.0004,"s":"ccd I"},{"e":7356,"o":0.0005,"s":"ccd I"},{"e":7521,"o":0.0024,"s":"ccd I"},{"e":7521,"o":0.0007,"s":"ccd I"},{"e":7752,"o":0.0017,"s":"ccd I"},{"e":7562,"o":-0.0073,"s":"ccd I"},{"e":7933,"o":-0.0027,"s":"ccd I"},{"e":8114,"o":0.0010,"s":"ccd I"},{"e":8122,"o":-0.0008,"s":"ccd I"},{"e":8344,"o":-0.0007,"s":"ccd I"},{"e":8534,"o":0.0010,"s":"ccd I"},{"e":8731,"o":0.0010,"s":"ccd I"},{"e":8731,"o":-0.0003,"s":"ccd I"},
{"e":2943,"o":-0.0327,"s":"ccd II"},
{"e":5930,"o":0.0005,"s":"KEPLER I+II"},{"e":5956,"o":0.0021,"s":"KEPLER I+II"},{"e":5983,"o":0.0024,"s":"KEPLER I+II"},{"e":6020,"o":0.0010,"s":"KEPLER I+II"},{"e":6062,"o":0.0018,"s":"KEPLER I+II"},{"e":6100,"o":0.0002,"s":"KEPLER I+II"},{"e":6142,"o":0.0008,"s":"KEPLER I+II"},{"e":6185,"o":0.0013,"s":"KEPLER I+II"},{"e":6222,"o":0.0005,"s":"KEPLER I+II"},{"e":6259,"o":-0.0003,"s":"KEPLER I+II"},{"e":6291,"o":0.0005,"s":"KEPLER I+II"},{"e":6328,"o":0.0010,"s":"KEPLER I+II"},{"e":6365,"o":-0.0003,"s":"KEPLER I+II"},{"e":6407,"o":0.0008,"s":"KEPLER I+II"},{"e":6450,"o":0.0018,"s":"KEPLER I+II"},{"e":6492,"o":0.0027,"s":"KEPLER I+II"},{"e":6529,"o":0.0034,"s":"KEPLER I+II"},{"e":6567,"o":0.0027,"s":"KEPLER I+II"},{"e":6598,"o":0.0010,"s":"KEPLER I+II"},{"e":6630,"o":-0.0003,"s":"KEPLER I+II"},{"e":6662,"o":-0.0014,"s":"KEPLER I+II"},{"e":6694,"o":-0.0025,"s":"KEPLER I+II"},{"e":6715,"o":-0.0030,"s":"KEPLER I+II"},
{"e":7920,"o":0.0021,"s":"TESS I+II"},{"e":7922,"o":0.0016,"s":"TESS I+II"},{"e":7919,"o":0.0010,"s":"TESS I+II"},{"e":7921,"o":0.0005,"s":"TESS I+II"},{"e":7920,"o":0.0002,"s":"TESS I+II"},{"e":8291,"o":0.0027,"s":"TESS I+II"},{"e":8289,"o":0.0021,"s":"TESS I+II"},{"e":8292,"o":0.0016,"s":"TESS I+II"},{"e":8291,"o":-0.0001,"s":"TESS I+II"},{"e":8493,"o":0.0030,"s":"TESS I+II"},{"e":8491,"o":0.0025,"s":"TESS I+II"},{"e":8494,"o":0.0020,"s":"TESS I+II"},{"e":8493,"o":0.0005,"s":"TESS I+II"},{"e":8769,"o":0.0021,"s":"TESS I+II"},{"e":8770,"o":0.0007,"s":"TESS I+II"}
]
},
"vconcat": [
{
"width": 1444, "height": 851,
"layer": [
{"data": {"name": "trend"}, "mark": {"type": "line", "color": "#A6A6A6", "strokeWidth": 2.2, "interpolate": "monotone"},
 "encoding": {
  "x": {"field": "e", "type": "quantitative", "scale": {"domain": [-13000, 10000], "nice": false, "zero": false},
        "axis": {"orient": "top", "values": [-11295,-8978,-6661,-4343,-2026,291,2608,4925,7242,9559], "labelExpr": "format(1920 + round((datum.value + 11295) / 193.1), 'd')", "tickSize": 8, "labelPadding": 16}},
  "y": {"field": "o", "type": "quantitative", "scale": {"domain": [-0.05338, 0.05], "nice": false, "zero": false},
        "axis": {"orient": "left", "values": [-0.05,-0.03,-0.01,0.01,0.03,0.05], "labelExpr": "replace(format(datum.value, '.2f'), '\u2212', '-')", "tickSize": 8, "labelPadding": 15}}
 }},
{"data": {"name": "model"}, "mark": {"type": "line", "strokeWidth": 2, "interpolate": "monotone"},
 "encoding": {
  "x": {"field": "e", "type": "quantitative", "scale": {"domain": [-13000, 10000], "nice": false, "zero": false},
        "axis": {"orient": "top", "values": [-11295,-8978,-6661,-4343,-2026,291,2608,4925,7242,9559], "labels": false, "domain": false, "tickSize": -8}},
  "y": {"field": "o", "type": "quantitative", "scale": {"domain": [-0.05338, 0.05], "nice": false, "zero": false},
        "axis": {"orient": "left", "values": [0.05,0.046,0.042,0.038,0.034,0.03,0.026,0.022,0.018,0.014,0.01,0.006,0.002,-0.002,-0.006,-0.01,-0.014,-0.018,-0.022,-0.026,-0.03,-0.034,-0.038,-0.042,-0.046,-0.05], "labels": false, "domain": false, "tickSize": -6}},
  "color": {"field": "s", "type": "nominal",
            "scale": {"domain": ["Model","vis I","pg I","pe I","ccd I","ccd II","KEPLER I+II","TESS I+II"], "range": ["#FF0000","#A6A6A6","#BF9000","#8FAADC","#A9D18E","#548235","#FFC000","#C55A11"]},
            "legend": {"orient": "none", "legendX": 1132, "legendY": 500, "title": null, "labelFontSize": 27, "labelFont": "Liberation Sans", "labelColor": "black", "strokeColor": "black", "fillColor": "white", "padding": 7, "rowPadding": 12, "labelOffset": 25, "symbolOffset": 31, "labelLimit": 400,
                       "encode": {"legend": {"update": {"strokeWidth": {"value": 2}}}, "symbols": {"update": {"stroke": {"signal": "datum.value === 'Model' ? '#FF0000' : 'transparent'"}, "strokeWidth": {"value": 2.5}}}}}}
 }},
{"data": {"name": "top"}, "mark": {"type": "point", "filled": true, "opacity": 1},
 "encoding": {
  "x": {"field": "e", "type": "quantitative", "scale": {"domain": [-13000, 10000], "nice": false, "zero": false}, "axis": null},
  "y": {"field": "o", "type": "quantitative", "scale": {"domain": [-0.05338, 0.05], "nice": false, "zero": false},
        "axis": {"orient": "right", "labels": false, "ticks": false}},
  "color": {"field": "s", "type": "nominal",
            "scale": {"domain": ["Model","vis I","pg I","pe I","ccd I","ccd II","KEPLER I+II","TESS I+II"], "range": ["#FF0000","#A6A6A6","#BF9000","#8FAADC","#A9D18E","#548235","#FFC000","#C55A11"]},
            "legend": {"orient": "none", "legendX": 1132, "legendY": 500, "title": null, "labelFontSize": 27, "labelFont": "Liberation Sans", "labelColor": "black", "strokeColor": "black", "fillColor": "white", "padding": 7, "rowPadding": 12, "labelOffset": 25, "symbolOffset": 31, "labelLimit": 400,
                       "encode": {"legend": {"update": {"strokeWidth": {"value": 2}}}, "symbols": {"update": {"stroke": {"signal": "datum.value === 'Model' ? '#FF0000' : 'transparent'"}, "strokeWidth": {"value": 2.5}}}}}},
  "shape": {"field": "s", "type": "nominal",
            "scale": {"domain": ["Model","vis I","pg I","pe I","ccd I","ccd II","KEPLER I+II","TESS I+II"], "range": ["M-4,0H4","circle","circle","circle","circle","circle","diamond","diamond"]},
            "legend": {"orient": "none", "legendX": 1132, "legendY": 500, "title": null, "labelFontSize": 27, "labelFont": "Liberation Sans", "labelColor": "black", "strokeColor": "black", "fillColor": "white", "padding": 7, "rowPadding": 12, "labelOffset": 25, "symbolOffset": 31, "labelLimit": 400,
                       "encode": {"legend": {"update": {"strokeWidth": {"value": 2}}}, "symbols": {"update": {"stroke": {"signal": "datum.value === 'Model' ? '#FF0000' : 'transparent'"}, "strokeWidth": {"value": 2.5}}}}}},
  "size": {"field": "s", "type": "nominal",
            "scale": {"type": "ordinal", "domain": ["Model","vis I","pg I","pe I","ccd I","ccd II","KEPLER I+II","TESS I+II"], "range": [256,28,230,140,160,140,30,36]},
            "legend": {"orient": "none", "legendX": 1132, "legendY": 500, "title": null, "labelFontSize": 27, "labelFont": "Liberation Sans", "labelColor": "black", "strokeColor": "black", "fillColor": "white", "padding": 7, "rowPadding": 12, "labelOffset": 25, "symbolOffset": 31, "labelLimit": 400,
                       "encode": {"legend": {"update": {"strokeWidth": {"value": 2}}}, "symbols": {"update": {"stroke": {"signal": "datum.value === 'Model' ? '#FF0000' : 'transparent'"}, "strokeWidth": {"value": 2.5}}}}}}
 }},
{"data": {"name": "top"}, "transform": [{"filter": "datum.s === 'KEPLER I+II'"}], "mark": {"type": "line", "color": "#FFC000", "strokeWidth": 6.5},
 "encoding": {
  "x": {"field": "e", "type": "quantitative", "scale": {"domain": [-13000, 10000], "nice": false, "zero": false}, "axis": null},
  "y": {"field": "o", "type": "quantitative", "scale": {"domain": [-0.05338, 0.05], "nice": false, "zero": false}, "axis": null}
 }},
{"data": {"values": [{}]}, "mark": {"type": "text", "text": "O-C", "font": "Liberation Sans", "fontSize": 33, "fontWeight": "bold", "align": "center", "baseline": "alphabetic", "color": "black"},
 "encoding": {"x": {"datum": -11588, "type": "quantitative", "axis": null}, "y": {"datum": 0.0407, "type": "quantitative", "axis": null}}},
{"data": {"values": [{}]}, "mark": {"type": "text", "text": "[gün]", "font": "Liberation Sans", "fontSize": 33, "fontWeight": "bold", "align": "center", "baseline": "alphabetic", "color": "black"},
 "encoding": {"x": {"datum": -11576, "type": "quantitative", "axis": null}, "y": {"datum": 0.0362, "type": "quantitative", "axis": null}}},
{"data": {"values": [{}]}, "mark": {"type": "text", "text": "(a)", "font": "Liberation Sans", "fontSize": 48, "fontWeight": "bold", "fontStyle": "italic", "align": "center", "baseline": "alphabetic", "color": "black"},
 "encoding": {"x": {"datum": 8646, "type": "quantitative", "axis": null}, "y": {"datum": 0.0400, "type": "quantitative", "axis": null}}}
],
"resolve": {"axis": {"x": "independent", "y": "independent"}}
},
{
"width": 1444, "height": 573,
"view": {"stroke": "black", "strokeWidth": 2.5},
"layer": [
{"data": {"name": "zero"}, "mark": {"type": "line", "color": "#A6A6A6", "strokeWidth": 1.5},
 "encoding": {
  "x": {"field": "e", "type": "quantitative", "scale": {"domain": [-13000, 10000], "nice": false, "zero": false},
        "axis": {"orient": "bottom", "values": [-13000,-8000,-3000,2000,7000], "labelExpr": "replace(format(datum.value, '.1f'), '\u2212', '-')", "tickSize": 6, "labelPadding": 13, "domain": false}},
  "y": {"field": "o", "type": "quantitative", "scale": {"domain": [-0.04, 0.03], "nice": false, "zero": false},
        "axis": {"orient": "left", "values": [-0.04,-0.03,-0.02,-0.01,0,0.01,0.02,0.03], "labelExpr": "replace(format(datum.value, '.2f'), '\u2212', '-')", "tickSize": 8, "labelPadding": 15, "domain": false}}
 }},
{"data": {"name": "bot"}, "mark": {"type": "point", "filled": true, "opacity": 1},
 "encoding": {
  "x": {"field": "e", "type": "quantitative", "scale": {"domain": [-13000, 10000], "nice": false, "zero": false},
        "axis": {"orient": "bottom", "values": [-13000,-12000,-11000,-10000,-9000,-8000,-7000,-6000,-5000,-4000,-3000,-2000,-1000,0,1000,2000,3000,4000,5000,6000,7000,8000,9000,10000], "labels": false, "domain": false, "tickSize": -6}},
  "y": {"field": "o", "type": "quantitative", "scale": {"domain": [-0.04, 0.03], "nice": false, "zero": false},
        "axis": {"orient": "left", "values": [-0.04,-0.038,-0.036,-0.034,-0.032,-0.03,-0.028,-0.026,-0.024,-0.022,-0.02,-0.018,-0.016,-0.014,-0.012,-0.01,-0.008,-0.006,-0.004,-0.002,0,0.002,0.004,0.006,0.008,0.01,0.012,0.014,0.016,0.018,0.02,0.022,0.024,0.026,0.028,0.03], "labels": false, "domain": false, "tickSize": -6}},
  "color": {"field": "s", "type": "nominal", "scale": {"domain": ["Model","vis I","pg I","pe I","ccd I","ccd II","KEPLER I+II","TESS I+II"], "range": ["#FF0000","#A6A6A6","#BF9000","#8FAADC","#A9D18E","#548235","#FFC000","#C55A11"]}, "legend": null},
  "shape": {"field": "s", "type": "nominal", "scale": {"domain": ["Model","vis I","pg I","pe I","ccd I","ccd II","KEPLER I+II","TESS I+II"], "range": ["M-4,0H4","circle","circle","circle","circle","circle","diamond","diamond"]}, "legend": null},
  "size": {"field": "s", "type": "nominal", "scale": {"type": "ordinal", "domain": ["Model","vis I","pg I","pe I","ccd I","ccd II","KEPLER I+II","TESS I+II"], "range": [256,28,230,140,160,140,30,36]}, "legend": null}
 }},
{"data": {"name": "bot"}, "transform": [{"filter": "datum.s === 'KEPLER I+II'"}], "mark": {"type": "line", "color": "#FFC000", "strokeWidth": 6.5},
 "encoding": {
  "x": {"field": "e", "type": "quantitative", "scale": {"domain": [-13000, 10000], "nice": false, "zero": false}, "axis": null},
  "y": {"field": "o", "type": "quantitative", "scale": {"domain": [-0.04, 0.03], "nice": false, "zero": false}, "axis": null}
 }},
{"data": {"values": [{}]}, "mark": {"type": "text", "text": "O-C [gün] - Modelden Olan Artıklar", "font": "Liberation Sans", "fontSize": 34, "fontWeight": "bold", "align": "left", "baseline": "alphabetic", "color": "black"},
 "encoding": {"x": {"datum": -12572, "type": "quantitative", "axis": null}, "y": {"datum": 0.0231, "type": "quantitative", "axis": null}}},
{"data": {"values": [{}]}, "mark": {"type": "text", "text": "(b)", "font": "Liberation Sans", "fontSize": 48, "fontWeight": "bold", "fontStyle": "italic", "align": "center", "baseline": "alphabetic", "color": "black"},
 "encoding": {"x": {"datum": 8631, "type": "quantitative", "axis": null}, "y": {"datum": 0.0200, "type": "quantitative", "axis": null}}},
{"data": {"values": [{}]}, "mark": {"type": "text", "text": "E [çevrim]", "font": "Liberation Sans", "fontSize": 33, "fontWeight": "bold", "align": "right", "baseline": "alphabetic", "color": "black"},
 "encoding": {"x": {"datum": 9236, "type": "quantitative", "axis": null}, "y": {"datum": -0.0351, "type": "quantitative", "axis": null}}}
],
"resolve": {"axis": {"x": "independent", "y": "independent"}}
}
],
"resolve": {"scale": {"color": "independent", "shape": "independent", "size": "independent"}}
}
